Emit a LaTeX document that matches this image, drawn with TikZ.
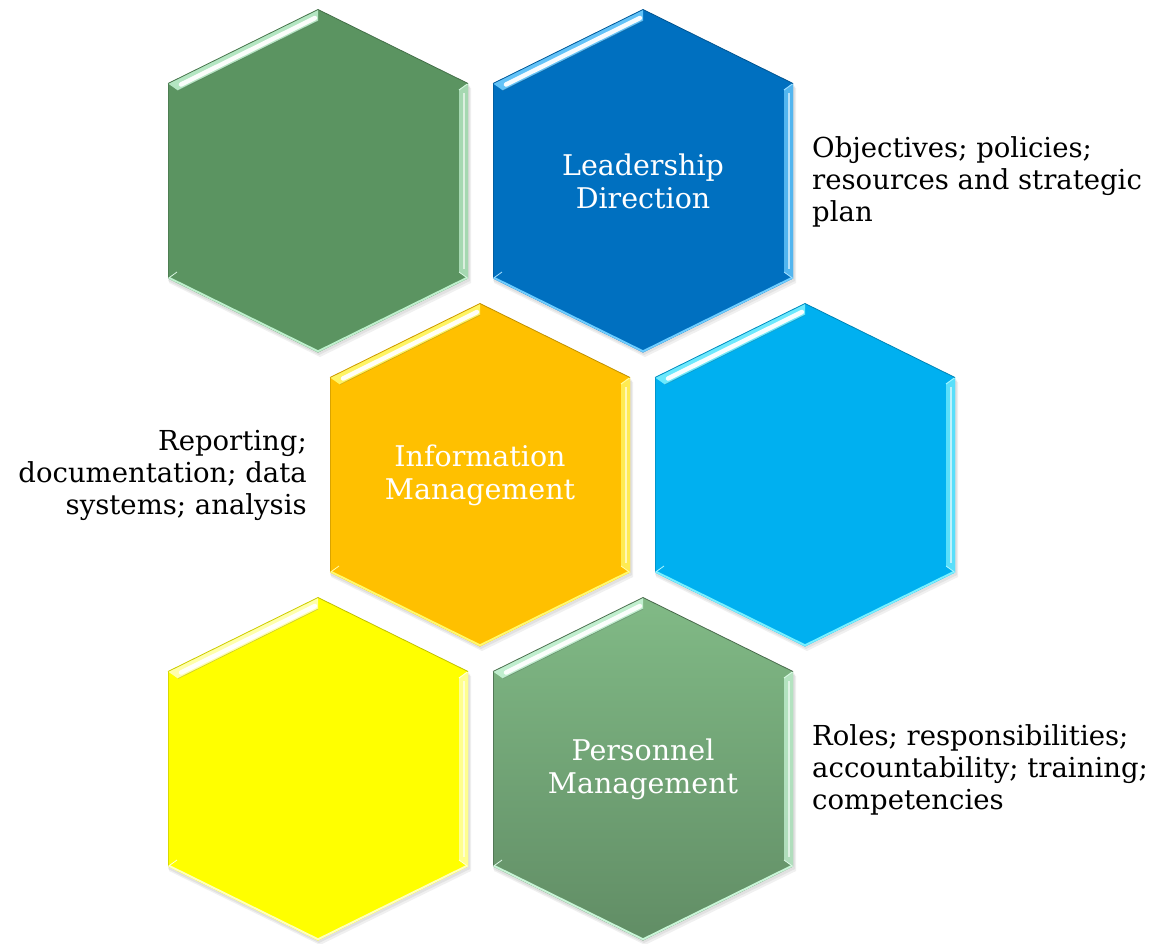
\documentclass[tikz,border=0pt]{standalone}
\usepackage{fontspec}
\setmainfont{DejaVu Serif}
\begin{document}
\begin{tikzpicture}[x=1pt,y=-1pt,
  hexlabel/.style={text=white,font=\fontsize{28.5}{33}\selectfont,align=center},
  sidetext/.style={text=black,font=\fontsize{27.5}{32}\selectfont},
  hexshadow/.style={fill=black,opacity=0.06}]
\definecolor{cgreenA}{RGB}{91,148,97}
\definecolor{cgreenAl}{RGB}{190,240,205}
\definecolor{cblue}{RGB}{0,112,192}
\definecolor{cbluel}{RGB}{110,205,255}
\definecolor{corange}{RGB}{255,192,0}
\definecolor{corangel}{RGB}{255,250,110}
\definecolor{ccyan}{RGB}{0,176,240}
\definecolor{ccyanl}{RGB}{120,240,255}
\definecolor{cyellow}{RGB}{255,255,0}
\definecolor{cyellowl}{RGB}{255,255,190}
\definecolor{cgreenBt}{RGB}{129,186,134}
\definecolor{cgreenBb}{RGB}{97,141,101}
\definecolor{cgreenBl}{RGB}{200,245,215}
\useasboundingbox (0,0) rectangle (1158,943);
\fill[white] (0,0) rectangle (1158,943);
% #1 name, #2 cx, #3 cy, #4 fill options, #5 base colour, #6 light colour
\newcommand{\hexcell}[6]{%
 \begin{scope}[shift={(#2,#3)}]
  \coordinate (#1) at (0,0);
  \fill[hexshadow] (1,-169) -- (152,-95) -- (152,100) -- (1,174) -- (-150,100) -- (-150,-95) -- cycle;
  \fill[hexshadow] (2,-167) -- (153,-93) -- (153,102) -- (2,176) -- (-149,102) -- (-149,-93) -- cycle;
  \path[#4] (0,-171.5) -- (150,-97.5) -- (150,97.5) -- (0,171.5) -- (-150,97.5) -- (-150,-97.5) -- cycle;
  % top-left bevel
  \fill[#6,opacity=0.9] (-150,-97.5) -- (0,-171.5) -- (0,-160) -- (-140,-90.5) -- cycle;
  \draw[white,line width=4.5,opacity=0.95,line cap=round] (-137,-96.5) -- (-3,-163);
  \draw[#5!80!black,line width=0.8] (-150,-97.5) -- (0,-171.5);
  \draw[#5!60!black,line width=0.6,opacity=0.5] (-140,-90.5) -- (0,-160);
  % right bevel
  \fill[#6,opacity=0.75] (150,-97.5) -- (150,97.5) -- (141,91) -- (141,-91) -- cycle;
  \draw[white,line width=2.5,opacity=0.6] (146,-88) -- (146,88);
  \draw[#6!70!white,line width=1] (141,-91) -- (150,-97.5);
  % top-right edge
  \draw[#5!75!black,line width=0.8] (0,-171.5) -- (150,-97.5);
  % left edge
  \draw[#5!85!black,line width=0.8] (-150,-97.5) -- (-150,97.5);
  % bottom bevel
  \draw[#6,line width=2,line join=round] (-149,96.8) -- (0,170.3) -- (149,96.8);
  \draw[#6!60!white,line width=0.8] (-150,97.5) -- (-141,91);
  \draw[#6!60!white,line width=0.8] (150,97.5) -- (141,91);
 \end{scope}}
\hexcell{hGreenA}{318}{181}{fill=cgreenA}{cgreenA}{cgreenAl}
\hexcell{hBlue}{643}{181}{fill=cblue}{cblue}{cbluel}
\hexcell{hOrange}{480}{475}{fill=corange}{corange}{corangel}
\hexcell{hCyan}{805}{475}{fill=ccyan}{ccyan}{ccyanl}
\hexcell{hYellow}{318}{769}{fill=cyellow}{cyellow}{cyellowl}
\hexcell{hGreenB}{643}{769}{top color=cgreenBt,bottom color=cgreenBb}{cgreenBb}{cgreenBl}
% labels
\node[hexlabel] (tLead) at (hBlue) {Leadership\\Direction};
\node[hexlabel] (tInfo) at (hOrange) {Information\\Management};
\node[hexlabel] (tPers) at (hGreenB) {Personnel\\Management};
\node[sidetext,align=left,anchor=west,inner sep=0] (sLead) at (812,182) {Objectives; policies;\\resources and strategic\\plan};
\node[sidetext,align=right,anchor=east,inner sep=0] (sInfo) at (307,475) {Reporting;\\documentation; data\\systems; analysis};
\node[sidetext,align=left,anchor=west,inner sep=0] (sPers) at (812,770) {Roles; responsibilities;\\accountability; training;\\competencies};
\end{tikzpicture}
\end{document}
